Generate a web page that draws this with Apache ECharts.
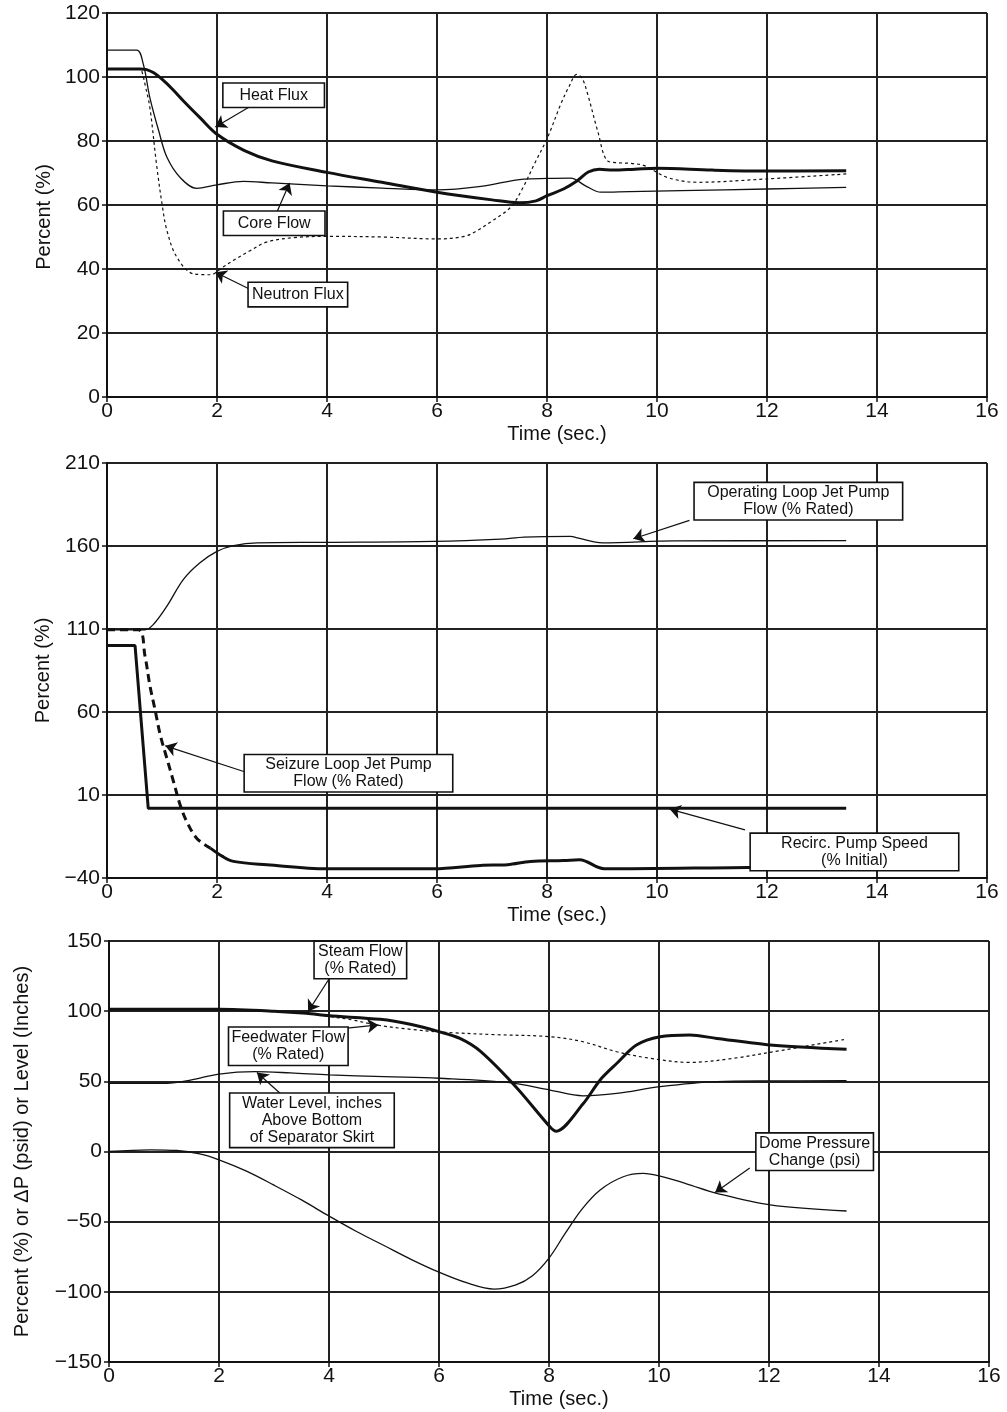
<!DOCTYPE html>
<html>
<head>
<meta charset="utf-8">
<script src="https://cdn.jsdelivr.net/npm/echarts@6/dist/echarts.min.js"></script>
<style>
html,body{margin:0;padding:0;background:#fff;}
#chart{width:1007px;height:1412px;}
</style>
</head>
<body>
<div id="chart"></div>
<script>
// ---------- DATA ----------
// Panel 1: Percent (%) vs Time (sec.)
const heatFluxT = [0, 0.6, 0.72, 0.85, 1.0, 1.2, 1.39, 1.69, 2.0, 2.5, 3.0, 4.0, 5.0, 6.0, 7.0, 7.5, 7.8, 8.0, 8.3, 8.55, 8.75, 8.95, 9.2, 9.6, 10.0, 11.0, 12.0, 13.44];
const heatFlux  = [102.5, 102.5, 102.3, 101.3, 99.3, 96, 92.5, 87.3, 82.1, 77, 73.8, 70.2, 67.1, 64.0, 61.6, 60.7, 61.3, 62.9, 65, 67.6, 70.3, 71.2, 70.9, 71.2, 71.5, 70.9, 70.6, 70.7];

const coreFlowT = [0, 0.54, 0.66, 0.78, 0.94, 1.09, 1.33, 1.63, 2.0, 2.48, 3.0, 4.0, 5.0, 6.0, 6.8, 7.58, 8.0, 8.43, 8.7, 8.98, 9.5, 10.44, 12.0, 13.44];
const coreFlow  = [108.4, 108.4, 104, 93.5, 83.2, 74.9, 68.6, 65.2, 66.3, 67.4, 66.9, 66.0, 65.3, 64.7, 65.8, 68.1, 68.3, 68.4, 66, 64.0, 64.2, 64.5, 65, 65.5];

const neutronFluxT = [0, 0.6, 0.63, 0.7, 0.78, 0.9, 1.0, 1.09, 1.27, 1.57, 1.88, 2.1, 2.3, 2.6, 2.9, 3.4, 4.0, 5.0, 6.0, 6.5, 6.73, 7.0, 7.34, 7.55, 7.77, 8.01, 8.25, 8.4, 8.54, 8.64, 8.74, 8.92, 9.1, 9.3, 9.53, 9.77, 10.19, 10.74, 11.95, 13.44];
const neutronFlux  = [102.5, 102.5, 102, 97, 90.4, 72.8, 60.4, 52, 43.7, 38.5, 38.2, 40.5, 42.7, 45.7, 48.4, 49.8, 50.2, 50, 49.4, 50.2, 52, 55, 59.3, 65, 72.8, 81.1, 91.5, 97, 100.8, 99.5, 94.6, 83.2, 73.8, 73.2, 73.0, 72.3, 68.6, 67.1, 68.1, 69.7];

// Panel 2: Percent (%) vs Time (sec.)
const opLoopT = [0, 0.69, 0.85, 1.09, 1.39, 1.69, 2.0, 2.3, 2.73, 4.0, 5.94, 7.16, 7.58, 8.43, 8.55, 9.01, 10.32, 13.44];
const opLoop  = [109.5, 109.5, 113, 123.8, 139.9, 149.9, 156.8, 160.2, 161.9, 162.2, 162.8, 164.2, 165.4, 165.8, 164.9, 161.9, 163.1, 163.2];

const recircT = [0, 0.51, 0.75, 13.44];
const recirc  = [100, 100, 2, 2];

const seizureDashT = [0, 0.57, 0.69, 0.78, 0.87, 0.97, 1.09, 1.21, 1.33, 1.45, 1.63, 1.88];
const seizureDash  = [109.5, 109.5, 93.9, 75.9, 61.9, 45.9, 31.9, 18, 4, -6, -16, -22];
const seizureT = [1.88, 2.1, 2.3, 2.91, 4.0, 5.94, 6.79, 7.28, 7.7, 8.3, 8.59, 9.04, 11.65, 13.44];
const seizure  = [-22, -27, -30, -32, -34.4, -34.4, -32.4, -32, -30, -29.5, -29, -34.4, -33.6, -33.2];

// Panel 3: Percent (%) or ΔP (psid) or Level (Inches) vs Time (sec.)
const steamT = [0, 2.0, 3.0, 3.59, 4.0, 4.93, 5.5, 6.0, 6.38, 6.75, 7.4, 8.02, 8.13, 8.62, 8.93, 9.23, 9.59, 10.02, 10.56, 11.05, 12.02, 13.41];
const steam  = [101.3, 101.3, 100, 98.5, 96.7, 94.2, 90.5, 85.4, 80.6, 71.5, 46, 17.5, 14.5, 34, 51, 62.7, 75.9, 81.8, 83, 80.6, 75.9, 72.8];

const feedT = [0, 2.0, 3.0, 3.6, 4.0, 4.42, 4.87, 5.5, 6.0, 6.2, 7.0, 8.02, 8.62, 9.23, 9.84, 10.56, 11.35, 12.26, 13.38];
const feed  = [101.3, 101.3, 100, 98.3, 96.2, 93.8, 90.1, 87, 85.2, 84.7, 83.3, 81.8, 78.2, 71.1, 66.4, 63.5, 66.4, 72.3, 79.9];

const levelT = [0, 1.05, 1.5, 2.0, 2.65, 3.3, 4.0, 5.0, 6.0, 7.25, 8.02, 8.62, 9.23, 10.02, 11.05, 12.0, 13.41];
const level  = [48.6, 48.6, 51, 55.2, 56.9, 56, 54.6, 53.3, 52.2, 49.2, 43.8, 39.7, 41.4, 46.2, 49.8, 50.3, 50.4];

const domeT = [0, 0.75, 1.23, 1.65, 2.0, 2.5, 3.0, 3.5, 4.0, 4.5, 5.0, 5.5, 6.0, 6.5, 7.0, 7.4, 7.7, 8.0, 8.3, 8.6, 8.93, 9.35, 9.71, 10.02, 10.5, 11.05, 12.02, 13.41];
const dome  = [0, 1.2, 0.7, -1.7, -5.9, -14, -24, -34.5, -46, -57, -67, -77, -86, -93.5, -98, -95, -88.5, -76, -58, -41, -27.4, -18, -15.6, -17.5, -23, -29.8, -38.1, -42.4];

// Axis ticks
const timeTicks = [0, 2, 4, 6, 8, 10, 12, 14, 16];
const p1Range = [0, 120, 20];
const p2Range = [-40, 210, 50];
const p3Range = [-150, 150, 50];

// ---------- BUILD ----------
const FONT = '"Liberation Sans", Arial, Helvetica, sans-serif';
const INK = '#111';
const zip = (t, v) => t.map((x, i) => [x, v[i]]);

const grids = [
  { left: 107, width: 880, top: 13, height: 384 },
  { left: 107, width: 880, top: 463, height: 415 },
  { left: 109, width: 880, top: 941, height: 421 }
];

function xAxisFor(i) {
  return {
    type: 'value', gridIndex: i,
    min: timeTicks[0], max: timeTicks[timeTicks.length - 1], interval: timeTicks[1] - timeTicks[0],
    name: 'Time (sec.)', nameLocation: 'middle', nameGap: 27,
    nameTextStyle: { fontSize: 20, color: INK, fontFamily: FONT, padding: [0, 0, 0, 20] },
    axisLine: { show: true, onZero: false, lineStyle: { color: INK, width: 2 } },
    axisTick: { show: true, length: 5, lineStyle: { color: INK, width: 1.5 } },
    axisLabel: { fontSize: 21, color: INK, margin: 4, fontFamily: FONT },
    splitLine: { show: true, lineStyle: { color: '#222', width: 2 } }
  };
}
function yAxisFor(i, r, name, gap, pad) {
  return {
    type: 'value', gridIndex: i, min: r[0], max: r[1], interval: r[2],
    name: name, nameLocation: 'middle', nameGap: gap, nameRotate: 90,
    nameTextStyle: { fontSize: 20, color: INK, fontFamily: FONT, padding: pad || 0 },
    axisLine: { show: true, onZero: false, lineStyle: { color: INK, width: 2 } },
    axisTick: { show: true, length: 5, lineStyle: { color: INK, width: 1.5 } },
    axisLabel: { fontSize: 21, color: INK, margin: 7, fontFamily: FONT,
      formatter: v => String(v).replace('-', '\u2212') },
    splitLine: { show: true, lineStyle: { color: '#222', width: 2 } }
  };
}

function lineSeries(name, gi, t, v, width, type, smooth) {
  return {
    name, type: 'line', xAxisIndex: gi, yAxisIndex: gi,
    data: zip(t, v), showSymbol: false, symbol: 'none',
    smooth: smooth === undefined ? 0.35 : smooth,
    lineStyle: { color: INK, width, type },
    silent: true, animation: false
  };
}

const LH = 17;
function callouts(items) {
  return {
    markPoint: {
      silent: true, animation: false,
      symbol: 'rect', symbolSize: 1,
      itemStyle: { color: 'rgba(0,0,0,0)' },
      data: items.map(a => ({
        coord: a.box,
        label: {
          show: true, position: 'inside', formatter: a.text, color: INK,
          fontSize: 16, lineHeight: LH, fontFamily: FONT,
          align: 'center', verticalAlign: 'middle',
          width: a.size[0] - 6,
          backgroundColor: '#fff', borderColor: INK, borderWidth: 1.6,
          padding: [Math.max(1, (a.size[1] - LH * a.text.split('\n').length) / 2), 3]
        }
      }))
    },
    markLine: {
      silent: true, animation: false,
      symbol: ['none', 'arrow'], symbolSize: 11,
      label: { show: false },
      lineStyle: { color: INK, width: 1.2, type: 'solid' },
      data: items.map(a => [{ coord: a.from }, { coord: a.tip }])
    }
  };
}

const s1 = lineSeries('Heat Flux', 0, heatFluxT, heatFlux, 3, 'solid');
Object.assign(s1, callouts([
  { text: 'Heat Flux', box: [3.03, 94.3], size: [100, 23], from: [2.64, 91.2], tip: [1.97, 84.4] },
  { text: 'Core Flow', box: [3.04, 54.3], size: [100, 23], from: [3.09, 57.8], tip: [3.32, 66.9] },
  { text: 'Neutron Flux', box: [3.47, 32], size: [98, 23], from: [2.57, 33.9], tip: [1.97, 39] }
]));
const s2 = lineSeries('Core Flow', 0, coreFlowT, coreFlow, 1.3, 'solid');
const s3 = lineSeries('Neutron Flux', 0, neutronFluxT, neutronFlux, 1.2, [3, 3]);

const s4 = lineSeries('Operating Loop Jet Pump Flow (% Rated)', 1, opLoopT, opLoop, 1.3, 'solid');
Object.assign(s4, callouts([
  { text: 'Operating Loop Jet Pump\nFlow (% Rated)', box: [12.57, 187], size: [207, 36], from: [10.59, 175.4], tip: [9.57, 164.4] },
  { text: 'Seizure Loop Jet Pump\nFlow (% Rated)', box: [4.39, 23.1], size: [207, 36], from: [2.5, 24], tip: [1.06, 39.6] },
  { text: 'Recirc. Pump Speed\n(% Initial)', box: [13.59, -24.3], size: [207, 36], from: [11.6, -11], tip: [10.23, 1.5] }
]));
const s5 = lineSeries('Recirc. Pump Speed (% Initial)', 1, recircT, recirc, 3, 'solid', false);
const s6 = lineSeries('Seizure Loop Jet Pump Flow (% Rated)', 1, seizureDashT, seizureDash, 3, [8, 5]);
const s7 = lineSeries('Seizure Loop Jet Pump Flow (% Rated) ', 1, seizureT, seizure, 3, 'solid');

const s8 = lineSeries('Steam Flow (% Rated)', 2, steamT, steam, 3, 'solid', 0.3);
Object.assign(s8, callouts([
  { text: 'Steam Flow\n(% Rated)', box: [4.57, 136.5], size: [91, 35], from: [4.02, 124.2], tip: [3.62, 99.7] },
  { text: 'Feedwater Flow\n(% Rated)', box: [3.26, 75], size: [118, 37], from: [4.33, 87.9], tip: [4.9, 90.2] },
  { text: 'Water Level, inches\nAbove Bottom\nof Separator Skirt', box: [3.69, 22.2], size: [163, 51], from: [3.14, 40.4], tip: [2.69, 56.3] },
  { text: 'Dome Pressure\nChange (psi)', box: [12.83, -0.1], size: [116, 35], from: [11.65, -11.8], tip: [11.02, -29.2] }
]));
const s9 = lineSeries('Feedwater Flow (% Rated)', 2, feedT, feed, 1.2, [3, 3]);
const s10 = lineSeries('Water Level', 2, levelT, level, 1.3, 'solid');
const s11 = lineSeries('Dome Pressure Change (psi)', 2, domeT, dome, 1.3, 'solid');

const option = {
  backgroundColor: '#fff',
  animation: false,
  textStyle: { fontFamily: FONT },
  grid: grids,
  xAxis: [xAxisFor(0), xAxisFor(1), xAxisFor(2)],
  yAxis: [
    yAxisFor(0, p1Range, 'Percent (%)', 52, [0, 24, 0, 0]),
    yAxisFor(1, p2Range, 'Percent (%)', 52),
    yAxisFor(2, p3Range, 'Percent (%) or \u0394P (psid) or Level (Inches)', 77)
  ],
  series: [s1, s2, s3, s4, s5, s6, s7, s8, s9, s10, s11]
};

const chart = echarts.init(document.getElementById('chart'), null, { renderer: 'canvas' });
chart.setOption(option);
</script>
</body>
</html>
